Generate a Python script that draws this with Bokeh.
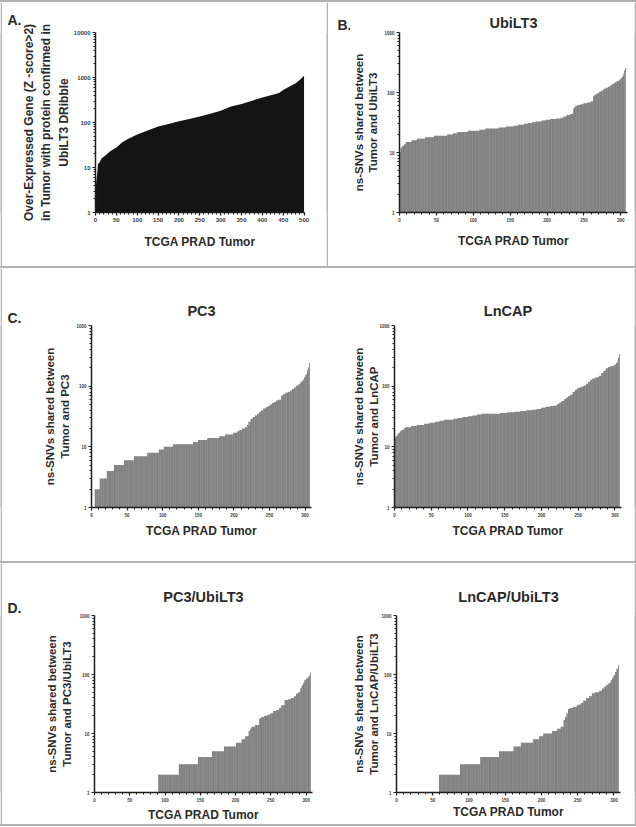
import numpy as np
from bokeh.plotting import figure
from bokeh.layouts import column, row
from bokeh.models import FixedTicker, NumeralTickFormatter, Range1d, Title, Div
from bokeh.embed import file_html
from bokeh.resources import INLINE

FONT = "Liberation Sans"
BORDER = "#b3b3b3"
BAR = "#4a4a4a"
TXT = "#2a2a2a"

# ---------------- data ----------------
# Panel A: over-expressed genes per tumour (sorted), sampled along the curve
a_tumor = [0, 1, 3, 5, 6, 10, 15, 25, 35, 50, 65, 80, 100, 125, 150, 175, 200,
           225, 250, 275, 300, 325, 350, 375, 400, 425, 440, 450, 465, 480, 490, 500]
a_genes = [3, 4, 6, 9, 12, 13, 16, 19, 23, 28, 37, 44, 54, 66, 82, 93, 106,
           120, 136, 157, 183, 228, 257, 304, 361, 412, 450, 530, 630, 745, 890, 1100]

# Panels B-D: ns-SNVs shared per tumour (sorted), as value / number of tumours
ubilt3_values = [10, 12, 13, 14, 15, 16, 17, 18, 19, 20, 21, 22, 23, 24, 25, 26, 27, 28, 29, 30,
                 31, 32, 33, 34, 35, 36, 37, 38, 40, 42, 44, 53, 57, 60, 62, 64, 66, 68, 71,
                 88, 93, 97, 103, 108, 115, 120, 125, 132, 140, 148, 155, 163, 172, 185, 205, 235, 257]
ubilt3_counts = [1, 2, 3, 2, 8, 7, 11, 12, 18, 8, 6, 14, 16, 8, 18, 10, 10, 6, 8, 6,
                 5, 5, 8, 6, 6, 8, 6, 4, 4, 5, 4, 1, 2, 3, 4, 4, 5, 4, 4,
                 2, 3, 3, 3, 3, 3, 3, 3, 3, 3, 3, 3, 2, 2, 2, 1, 1, 1]

pc3_values = [1, 2, 3, 4, 5, 6, 7, 8, 9, 10, 11, 12, 13, 14, 15, 16, 17, 18, 19, 20, 21,
              23, 26, 29, 31, 33, 35, 38, 40, 43, 45, 47, 50, 53, 55, 58, 60,
              70, 74, 78, 80, 84, 90, 95, 102, 108, 118, 128, 140, 155, 175, 190, 205, 240]
pc3_counts = [4, 7, 10, 10, 14, 14, 19, 16, 7, 13, 28, 7, 13, 17, 8, 11, 6, 3, 4, 4, 3,
              2, 3, 3, 3, 3, 3, 3, 3, 3, 3, 3, 3, 3, 3, 3, 4,
              3, 3, 3, 3, 3, 3, 3, 3, 3, 3, 2, 2, 2, 1, 1, 1, 1]

lncap_values = [14, 15, 16, 17, 18, 19, 20, 21, 22, 23, 24, 25, 26, 27, 28, 29, 30, 31, 32, 33,
                34, 35, 36, 37, 38, 39, 40, 41, 42, 44, 46, 47, 48,
                51, 54, 57, 61, 65, 69, 73, 80, 87, 92, 95, 99, 103, 110, 118, 127, 134, 137,
                142, 148, 165, 180, 198, 205, 212, 218, 228, 240, 260, 300, 340]
lncap_counts = [1, 2, 2, 2, 2, 3, 2, 8, 8, 10, 7, 8, 6, 6, 13, 6, 6, 8, 6, 6,
                6, 25, 10, 10, 8, 8, 8, 6, 6, 6, 6, 6, 4,
                3, 3, 3, 3, 3, 3, 3, 3, 3, 3, 3, 3, 3, 3, 3, 3, 3, 3,
                3, 3, 3, 3, 3, 3, 3, 3, 2, 2, 1, 1, 1]

pc3_ubilt3_values = [1, 2, 3, 4, 5, 6, 7, 8, 9, 11, 12, 13, 14, 18, 19, 20, 21, 22, 24, 25, 27,
                     30, 37, 38, 40, 43, 47, 50, 58, 65, 72, 80, 85, 88, 95, 108]
pc3_ubilt3_counts = [90, 29, 27, 20, 17, 17, 8, 5, 5, 2, 2, 5, 6, 3, 4, 5, 4, 4, 4, 4, 3,
                     5, 5, 4, 4, 3, 3, 3, 2, 2, 2, 2, 2, 2, 2, 1]

lncap_ubilt3_values = [1, 2, 3, 4, 5, 6, 7, 8, 9, 10, 11, 12, 13, 17, 19, 22, 26, 27, 28, 30,
                       31, 33, 36, 40, 43, 48, 50, 53, 58, 62, 67, 72, 80, 88, 98, 110, 125, 145]
lncap_ubilt3_counts = [58, 29, 28, 26, 20, 10, 17, 8, 6, 12, 7, 5, 4, 2, 2, 2, 3, 4, 5, 3,
                       3, 3, 4, 4, 4, 4, 6, 4, 3, 3, 3, 3, 2, 2, 2, 2, 2, 1]

x_ticks_a = [0, 50, 100, 150, 200, 250, 300, 350, 400, 450, 500]
x_ticks = [0, 50, 100, 150, 200, 250, 300]
y_ticks_a = [1, 10, 100, 1000, 10000]
y_ticks = [1, 10, 100, 1000]

X_LABEL = "TCGA PRAD Tumor"


def minor_log(top_exp):
    return [m * 10 ** e for e in range(top_exp) for m in range(2, 10)]


def make_panel(w, h, left, right, top, bottom, xmax, ymax, title, title_standoff,
               ylabel, ylabel_size, line_h, ystandoff, xstandoff, xt, yt, tick_size):
    p = figure(width=w, height=h, y_axis_type="log",
               x_range=Range1d(0, xmax), y_range=Range1d(1, ymax),
               toolbar_location=None, output_backend="svg",
               min_border_left=left, min_border_right=right,
               min_border_top=top, min_border_bottom=bottom,
               title=title)
    p.outline_line_color = None
    p.grid.visible = False
    p.background_fill_color = "white"
    p.border_fill_color = "white"
    if title is not None:
        p.title.align = "center"
        p.title.text_font = FONT
        p.title.text_font_style = "bold"
        p.title.text_font_size = "14.5px"
        p.title.text_color = TXT
        p.title.standoff = title_standoff
    for ax in (p.xaxis[0], p.yaxis[0]):
        ax.axis_line_width = 1.5
        ax.axis_line_color = "#1e1e1e"
        ax.major_tick_line_width = 1.2
        ax.major_tick_line_color = "#1e1e1e"
        ax.minor_tick_line_color = "#1e1e1e"
        ax.major_tick_in = 0
        ax.major_tick_out = 3
        ax.minor_tick_in = 0
        ax.minor_tick_out = 2
        ax.major_label_text_font = FONT
        ax.major_label_text_font_style = "bold"
        ax.major_label_text_font_size = tick_size
        ax.major_label_text_color = "#3a3a3a"
        ax.major_label_standoff = 2
        ax.axis_label_text_font = FONT
        ax.axis_label_text_font_style = "bold"
        ax.axis_label_text_color = TXT
        ax.formatter = NumeralTickFormatter(format="0")
    p.xaxis.ticker = FixedTicker(ticks=xt, minor_ticks=list(range(0, int(xmax) + 1, 10)))
    p.yaxis.ticker = FixedTicker(ticks=yt, minor_ticks=minor_log(len(yt) - 1))
    p.yaxis.axis_label = ylabel
    p.yaxis.axis_label_text_font_size = ylabel_size
    p.yaxis.axis_label_text_line_height = line_h
    p.yaxis.axis_label_standoff = ystandoff
    p.xaxis.axis_label = X_LABEL
    p.xaxis.axis_label_text_font_size = "12px"
    p.xaxis.axis_label_standoff = xstandoff
    return p


def letter(text, offset, standoff):
    return Title(text=text, align="left", offset=offset, standoff=standoff,
                 text_font=FONT, text_font_style="bold", text_font_size="14px",
                 text_color=TXT)


def letter_fig(text, w, h, top, offset):
    f = figure(width=w, height=h, toolbar_location=None, output_backend="svg",
               min_border_left=0, min_border_right=0, min_border_top=top, min_border_bottom=0,
               x_axis_location=None, y_axis_location=None, outline_line_color=None,
               background_fill_color="white", border_fill_color="white")
    f.grid.visible = False
    f.title = letter(text, offset, 0)
    return f


def add_bars(p, values, counts):
    tops = np.repeat(np.array(values, dtype=float), counts)
    xs = np.arange(1, len(tops) + 1)
    p.vbar(x=xs, top=tops, bottom=1, width=0.8, fill_color=BAR, line_color=None)


def vrule(h):
    f = figure(width=2, height=h, toolbar_location=None, output_backend="svg",
               min_border=0, x_axis_location=None, y_axis_location=None, title=None,
               background_fill_color=BORDER, border_fill_color=BORDER,
               outline_line_color=None)
    f.grid.visible = False
    return f


def hrule(w):
    return Div(text="", width=w, height=2, margin=0,
               styles={"background-color": BORDER, "padding": "0px"})


XMAX = 309

# ---- Panel A ----
pa = make_panel(324, 264, 93, 22, 30, 53, 501, 10000, None, 0,
                "Over-Expressed Gene (Z -score>2)\nin Tumor with protein confirmed in\nUbiLT3 DRibble",
                "12px", 1.25, 0, 10, x_ticks_a, y_ticks_a, "6px")
pa.varea(x=a_tumor, y1=1, y2=a_genes, fill_color="#141414")
pa.title = letter("A.", -88, 10)

# ---- Panel B ----
lb = letter_fig("B.", 22, 264, 20, 9)
pb = make_panel(284, 264, 46, 7, 28, 54, XMAX, 1000, "UbiLT3", 3,
                "ns-SNVs shared between\nTumor and UbiLT3", "11.5px", 1.2, 2, 9,
                x_ticks, y_ticks, "4.5px")
add_bars(pb, ubilt3_values, ubilt3_counts)

# ---- Panel C ----
lc = letter_fig("C.", 20, 293, 40, 5)
pc1 = make_panel(296, 293, 69, 7, 56, 54, XMAX, 1000, "PC3", 14,
                 "ns-SNVs shared between\nTumor and PC3", "11.5px", 1.3, 2, 4,
                 x_ticks, y_ticks, "4.5px")
add_bars(pc1, pc3_values, pc3_counts)

pc2 = make_panel(316, 293, 76, 13, 57, 52, XMAX, 1000, "LnCAP", 14,
                 "ns-SNVs shared between\nTumor and LnCAP", "11.5px", 1.3, -4, 4,
                 x_ticks, y_ticks, "4.5px")
add_bars(pc2, lncap_values, lncap_counts)

# ---- Panel D ----
ld = letter_fig("D.", 20, 261, 29, 5)
pd1 = make_panel(296, 261, 72, 6, 52, 32, XMAX, 1000, "PC3/UbiLT3", 21,
                 "ns-SNVs shared between\nTumor and PC3/UbiLT3", "11.5px", 1.3, 3, 3,
                 x_ticks, y_ticks, "4.5px")
add_bars(pd1, pc3_ubilt3_values, pc3_ubilt3_counts)

pd2 = make_panel(316, 261, 78, 14, 46, 30, XMAX, 1000, "LnCAP/UbiLT3", 22,
                 "ns-SNVs shared between\nTumor and LnCAP/UbiLT3", "11.5px", 1.3, -2, 0,
                 x_ticks, y_ticks, "4.5px")
add_bars(pd2, lncap_ubilt3_values, lncap_ubilt3_counts)

layout = column(
    hrule(636),
    row(vrule(264), pa, vrule(264), lb, pb, vrule(264)),
    hrule(636),
    row(vrule(293), lc, pc1, pc2, vrule(293)),
    hrule(636),
    row(vrule(261), ld, pd1, pd2, vrule(261)),
    hrule(636),
)

open("out.html", "w").write(file_html(layout, INLINE))
